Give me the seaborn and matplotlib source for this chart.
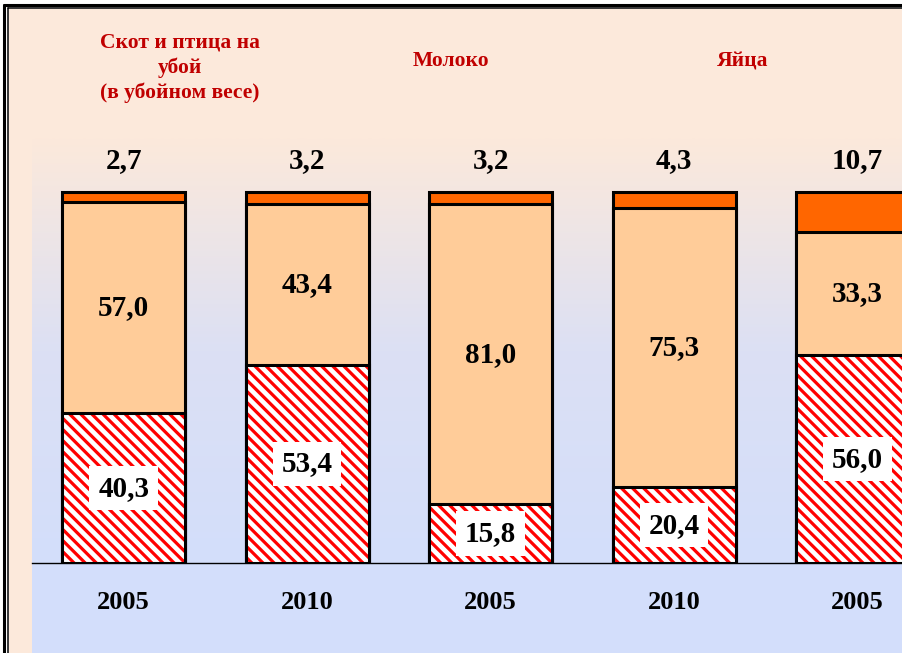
import matplotlib.pyplot as plt
import matplotlib.patches as mpatches
from matplotlib.lines import Line2D
from matplotlib.colors import LinearSegmentedColormap
import numpy as np
import pandas as pd
import seaborn as sns

# data (shares, %)
groups = ['meat_2005', 'meat_2010', 'milk_2005', 'milk_2010', 'eggs_2005']
years = ['2005', '2010', '2005', '2010', '2005']
hatched = [40.3, 53.4, 15.8, 20.4, 56.0]
middle = [57.0, 43.4, 81.0, 75.3, 33.3]
top = [2.7, 3.2, 3.2, 4.3, 10.7]
titles = ['Скот и птица на\nубой\n(в убойном весе)', 'Молоко', 'Яйца']

df = pd.DataFrame({'group': groups, 'hatched': hatched, 'middle': middle, 'top': top})
df['lower2'] = df['hatched'] + df['middle']
df['total'] = df['lower2'] + df['top']

W, H = 903, 653
peach = '#FCE9DB'
blue = '#D3DEFB'
serif = 'Liberation Serif'

sns.set_style('white')
plt.rcParams['font.family'] = [serif, 'DejaVu Serif']
plt.rcParams['hatch.linewidth'] = 2.3

fig = plt.figure(figsize=(W / 100, H / 100), dpi=100, facecolor='white')

def fx(px):
    return px / W

def fy(py):
    return 1 - py / H

# peach page + double border
fig.add_artist(mpatches.Rectangle((fx(9), 0), 1 - fx(9), fy(9), transform=fig.transFigure,
                                  facecolor=peach, edgecolor='none', zorder=0))
fig.add_artist(mpatches.Rectangle((fx(32), 0), 1 - fx(32), fy(563), transform=fig.transFigure,
                                  facecolor=blue, edgecolor='none', zorder=0))
for p, lw in [(4.5, 2.2), (8.0, 1.1)]:
    fig.add_artist(Line2D([fx(p), fx(p)], [0, fy(p)], transform=fig.transFigure, color='black', lw=lw))
    fig.add_artist(Line2D([fx(p), 1], [fy(p), fy(p)], transform=fig.transFigure, color='black', lw=lw))

ax = fig.add_axes([fx(32), fy(563), 1 - fx(32), fy(138) - fy(563)])
ax.patch.set_visible(False)

bw = 0.67
edge_lw = 2.2
sns.barplot(data=df, x='group', y='total', order=groups, color='#FF6600', width=bw,
            edgecolor='black', linewidth=edge_lw, saturation=1, ax=ax, zorder=2)
sns.barplot(data=df, x='group', y='lower2', order=groups, color='#FFCC99', width=bw,
            edgecolor='black', linewidth=edge_lw, saturation=1, ax=ax, zorder=3)
sns.barplot(data=df, x='group', y='hatched', order=groups, color='white', width=bw,
            edgecolor='#FF0000', linewidth=0, hatch='\\\\\\', saturation=1, ax=ax, zorder=4)
sns.barplot(data=df, x='group', y='hatched', order=groups, fill=False, width=bw,
            edgecolor='black', linewidth=edge_lw, ax=ax, zorder=5)

ymax = (563 - 138) / 3.71
ax.set_xlim(-0.5, 4.248)
ax.set_ylim(0, ymax)

# background gradient peach -> light blue
cmap = LinearSegmentedColormap.from_list('bg', [blue, '#DCE0F4', peach])
grad = np.linspace(0, 1, 256).reshape(-1, 1)
ax.imshow(grad, cmap=cmap, origin='lower', aspect='auto',
          extent=[-0.5, 4.248, 0, ymax], zorder=0)

lab = dict(fontsize=21, fontweight='bold', color='black', ha='center', va='center', zorder=10)
for i, row in df.iterrows():
    ax.text(i, row['hatched'] / 2, f"{row['hatched']:.1f}".replace('.', ','),
            bbox=dict(facecolor='white', edgecolor='none', boxstyle='square,pad=0.3'), **lab)
    ax.text(i, row['hatched'] + row['middle'] / 2, f"{row['middle']:.1f}".replace('.', ','), **lab)
    ax.annotate(f"{row['top']:.1f}".replace('.', ','), (i, row['total']), xytext=(0, 23),
                textcoords='offset points', **lab)

ax.set_xticks(range(len(groups)))
ax.set_xticklabels(years, fontsize=19, fontweight='bold', va='top', color='black')
ax.tick_params(axis='x', length=0, pad=20)
ax.set_yticks([])
ax.set_xlabel('')
ax.set_ylabel('')
for s in ['top', 'right', 'left']:
    ax.spines[s].set_visible(False)
ax.spines['bottom'].set_color('black')
ax.spines['bottom'].set_linewidth(1.0)
ax.spines['bottom'].set_zorder(6)

tkw = dict(color='#C00000', fontsize=15.5, fontweight='bold', ha='center', va='center',
           linespacing=1.3)
fig.text(fx(180), fy(68), titles[0], **tkw)
fig.text(fx(451), fy(61), titles[1], **tkw)
fig.text(fx(743), fy(61), titles[2], **tkw)

fig.savefig('out.png', dpi=100, facecolor='white')
